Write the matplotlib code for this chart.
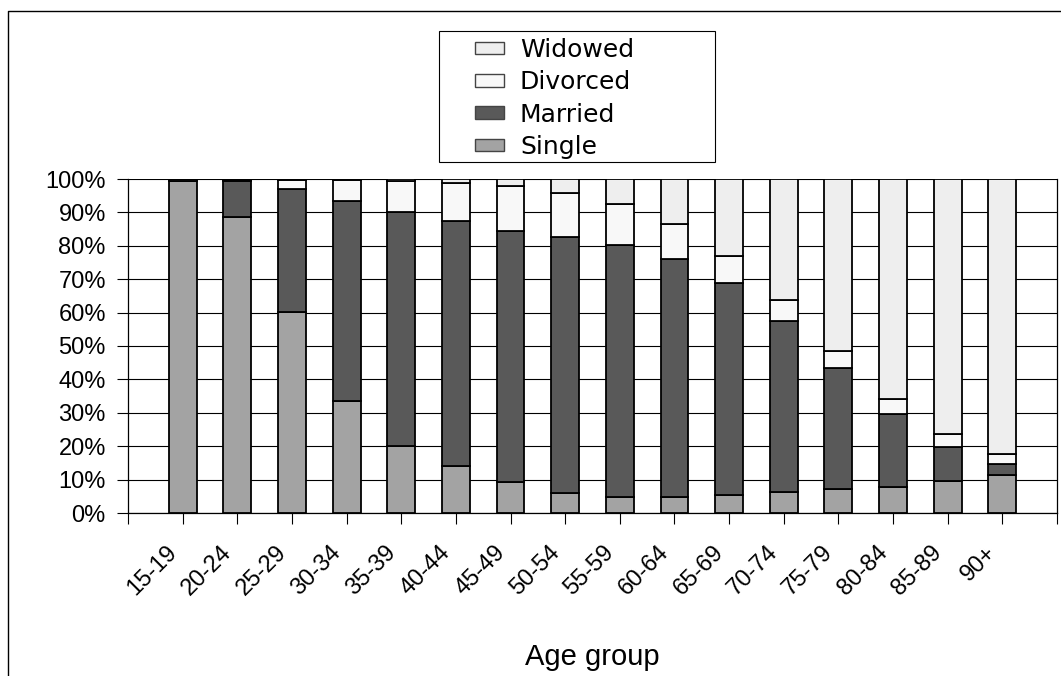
import numpy as np
import matplotlib
matplotlib.use("Agg")
import matplotlib.pyplot as plt
from matplotlib.patches import Rectangle, Patch
from matplotlib.lines import Line2D
import matplotlib.transforms as mtransforms

plt.rcParams['font.family'] = ['Liberation Sans', 'DejaVu Sans']

# data (percent of each age group)
age_groups = ["15-19", "20-24", "25-29", "30-34", "35-39", "40-44", "45-49", "50-54",
              "55-59", "60-64", "65-69", "70-74", "75-79", "80-84", "85-89", "90+"]
single = [99.3, 88.6, 60.3, 33.5, 20.2, 14.0, 9.2, 6.1, 4.8, 4.8, 5.5, 6.3, 7.1, 7.8, 9.5, 11.5]
married = [0.6, 10.7, 36.8, 60.0, 69.9, 73.3, 75.2, 76.4, 75.5, 71.2, 63.3, 51.3, 36.2, 21.8, 10.3, 3.1]
divorced = [0.05, 0.5, 2.7, 6.2, 9.2, 11.5, 13.4, 13.3, 12.1, 10.6, 8.0, 6.2, 5.2, 4.4, 3.8, 3.2]
widowed = [0.05, 0.2, 0.2, 0.3, 0.7, 1.2, 2.2, 4.2, 7.6, 13.4, 23.2, 36.2, 51.5, 66.0, 76.4, 82.2]

series = [("Single", single, "#a3a3a3"),
          ("Married", married, "#595959"),
          ("Divorced", divorced, "#f8f8f8"),
          ("Widowed", widowed, "#eeeeee")]

W, H = 1061, 676
fig = plt.figure(figsize=(W / 100, H / 100), dpi=100)
ax = fig.add_axes([128 / W, 1 - 513 / H, 929 / W, 334 / H])

x = np.arange(1, len(age_groups) + 1)
bottom = np.zeros(len(age_groups))
handles = []
for name, vals, col in series:
    vals = np.array(vals)
    ax.bar(x, vals, width=0.51, bottom=bottom, color=col, edgecolor="black",
           linewidth=1.3, zorder=3)
    bottom += vals
    handles.append(Patch(facecolor=col, edgecolor="#444444", linewidth=1.0, label=name))

ax.set_xlim(0, len(age_groups) + 1)
ax.set_ylim(0, 100)
ax.set_yticks(np.arange(0, 101, 10))
ax.set_yticklabels([f"{v}%" for v in range(0, 101, 10)], fontsize=17)
ax.yaxis.grid(True, color="black", linewidth=0.8, zorder=0)
ax.set_axisbelow(True)

# ticks at every category boundary-like slot, labels drawn under the bars
ax.set_xticks(np.arange(0, len(age_groups) + 2))
ax.set_xticklabels([])
offset = mtransforms.ScaledTranslation(-9 / 100, -36 / 100, fig.dpi_scale_trans)
for xi, lab in zip(x, age_groups):
    ax.text(xi, 0, lab, fontsize=17, rotation=45, ha="right", va="center",
            rotation_mode="anchor", transform=ax.get_xaxis_transform() + offset)
ax.tick_params(axis="x", direction="out", length=8, width=0.8, color="black")
ax.tick_params(axis="y", direction="out", length=8, width=0.8, pad=8)

ax.spines["top"].set_visible(False)
for s in ["left", "bottom", "right"]:
    ax.spines[s].set_linewidth(0.9)
    ax.spines[s].set_color("black")

fig.text(592 / W, 1 - 665 / H, "Age group", fontsize=21, ha="center", va="baseline")

# legend (reversed order, like the reference)
leg = fig.legend(handles=handles[::-1], loc="upper left",
                 bbox_to_anchor=(475 / W, 1 - 38 / H), bbox_transform=fig.transFigure,
                 frameon=False, borderpad=0, borderaxespad=0, handlelength=1.15,
                 handleheight=0.4, handletextpad=0.65, labelspacing=0.33,
                 prop={"family": "DejaVu Sans", "size": 18})
fig.patches.append(Rectangle((439 / W, 1 - 162 / H), 276 / W, 131 / H,
                             transform=fig.transFigure, fill=False,
                             edgecolor="black", linewidth=0.8))

# outer chart frame (top and left edges visible)
fig.lines.append(Line2D([7.5 / W, 7.5 / W, 1.0], [0.0, 1 - 11 / H, 1 - 11 / H],
                        transform=fig.transFigure, color="black", linewidth=1.0))

fig.savefig("out.png", dpi=100)
